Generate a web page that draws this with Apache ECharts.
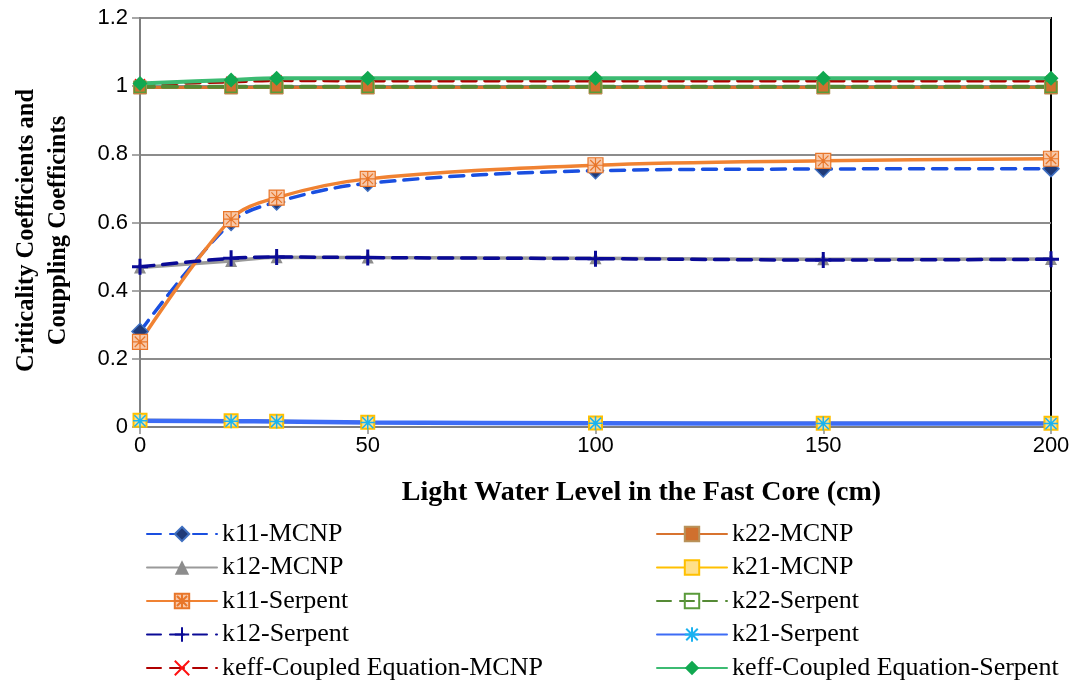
<!DOCTYPE html>
<html>
<head>
<meta charset="utf-8">
<script src="https://cdn.jsdelivr.net/npm/echarts@6/dist/echarts.min.js"></script>
<style>
  html, body { margin: 0; padding: 0; background: #fff; }
  #chart { width: 1075px; height: 684px; }
</style>
</head>
<body>
<div id="chart"></div>
<script>
// Light water level in the fast core (cm)
const waterLevel = [0, 20, 30, 50, 100, 150, 200];

// Criticality and coupling coefficients
const k11MCNP    = [0.280, 0.600, 0.660, 0.715, 0.752, 0.757, 0.758];
const k22MCNP    = [0.996, 0.996, 0.996, 0.996, 0.996, 0.996, 0.996];
const k12MCNP    = [0.468, 0.487, 0.498, 0.497, 0.495, 0.492, 0.493];
const k21MCNP    = [0.020, 0.018, 0.017, 0.014, 0.012, 0.011, 0.011];
const k11Serpent = [0.250, 0.610, 0.673, 0.728, 0.768, 0.781, 0.787];
const k22Serpent = [0.998, 0.998, 0.998, 0.998, 0.998, 0.998, 0.998];
const k12Serpent = [0.470, 0.495, 0.499, 0.497, 0.494, 0.490, 0.492];
const k21Serpent = [0.018, 0.017, 0.016, 0.013, 0.011, 0.010, 0.010];
const keffMCNP    = [1.006, 1.013, 1.017, 1.016, 1.016, 1.016, 1.016];
const keffSerpent = [1.008, 1.018, 1.023, 1.023, 1.023, 1.023, 1.023];

const yTicks = { min: 0, max: 1.2, step: 0.2 };
const xTicks = { min: 0, max: 200, step: 50 };

const pairs = vals => waterLevel.map((x, i) => [x, vals[i]]);

// marker shapes
const PLUS = 'path://M0,5L10,5M5,0L5,10';
const STAR = 'path://M1,1L9,9M9,1L1,9M5,0L5,10M0,5L10,5';
const BOXSTAR = 'path://M0,0L10,0L10,10L0,10Z M1.5,1.5L8.5,8.5M8.5,1.5L1.5,8.5M5,0L5,10M0,5L10,5';
const CROSS = 'path://M0,0L10,10M10,0L0,10';

const dash = [14, 9];

function line(name, data, color, width, dashed, symbol, size, itemStyle, smooth) {
  return {
    name: name,
    type: 'line',
    data: pairs(data),
    smooth: smooth === undefined ? 0.35 : smooth,
    symbol: symbol,
    symbolSize: size,
    showSymbol: true,
    lineStyle: { color: color, width: width, type: dashed ? dash : 'solid', cap: 'round' },
    itemStyle: itemStyle,
    emphasis: { disabled: true }
  };
}

const series = [
  line('k11-MCNP', k11MCNP, '#1a4fe0', 3.5, true, 'diamond', 16,
       { color: '#1f3a78', borderColor: '#3f6fc0', borderWidth: 1.5 }),
  line('k12-MCNP', k12MCNP, '#9a9a9a', 3.5, false, 'triangle', 12,
       { color: '#8c8c8c' }),
  line('k11-Serpent', k11Serpent, '#f08232', 3.5, false, BOXSTAR, 15,
       { color: '#f8c8a8', borderColor: '#e8762a', borderWidth: 1.2 }),
  line('k12-Serpent', k12Serpent, '#0a0a96', 3.5, true, PLUS, 16,
       { color: 'none', borderColor: '#0a0a96', borderWidth: 3 }),
  line('keff-Coupled Equation-MCNP', keffMCNP, '#b00000', 3.5, true, CROSS, 10,
       { color: 'none', borderColor: '#ff1010', borderWidth: 1.5 }),
  line('k22-MCNP', k22MCNP, '#d8732f', 3, false, 'rect', 13,
       { color: '#d0702e', borderColor: '#b8925a', borderWidth: 1 }),
  line('k21-MCNP', k21MCNP, '#ffc000', 3, false, 'rect', 13,
       { color: '#ffe08a', borderColor: '#ffc000', borderWidth: 2 }),
  line('k22-Serpent', k22Serpent, '#558a35', 4, true, 'rect', 11,
       { color: 'transparent', borderColor: '#5a9a3a', borderWidth: 1.5 }),
  line('k21-Serpent', k21Serpent, '#3d6cf5', 4.5, false, STAR, 14,
       { color: 'none', borderColor: '#1ab2f0', borderWidth: 1.5 }),
  line('keff-Coupled Equation-Serpent', keffSerpent, '#3cbb72', 4, false, 'diamond', 15,
       { color: '#10a850' })
];

const legendText = { fontFamily: 'Liberation Serif', fontSize: 26, color: '#000', padding: [0, 0, 0, 0] };

const legendBase = {
  orient: 'vertical', top: 521, padding: 0, height: 170,
  itemWidth: 70, itemHeight: 18, itemGap: 7.5,
  textStyle: legendText
};

const option = {
  animation: false,
  backgroundColor: '#fff',
  grid: {
    left: 140, right: 24, top: 18, bottom: 257,
    outerBoundsMode: 'none',
    containLabel: false,
    show: true, borderColor: '#000', borderWidth: 2, backgroundColor: 'transparent'
  },
  xAxis: {
    type: 'value',
    min: xTicks.min, max: xTicks.max, interval: xTicks.step,
    name: 'Light Water Level in the Fast Core (cm)',
    nameLocation: 'middle',
    nameGap: 52,
    nameTextStyle: { fontFamily: 'Liberation Serif', fontWeight: 'bold', fontSize: 28, color: '#000', padding: [0, 0, 0, 92] },
    axisLine: { lineStyle: { color: '#7f7f7f', width: 2 } },
    axisTick: { show: true, length: 7, lineStyle: { color: '#8a8a8a', width: 1.5 } },
    axisLabel: { fontFamily: 'Liberation Sans', fontSize: 22, color: '#000', margin: 8 },
    splitLine: { show: false }
  },
  yAxis: {
    type: 'value',
    min: yTicks.min, max: yTicks.max, interval: yTicks.step,
    name: 'Criticality Coefficients and\nCouppling Coefficints',
    nameLocation: 'middle',
    nameGap: 65,
    nameTextStyle: { fontFamily: 'Liberation Serif', fontWeight: 'bold', fontSize: 24.5, color: '#000', lineHeight: 32, padding: [0, 16, 0, 0] },
    axisLine: { show: true, lineStyle: { color: '#7f7f7f', width: 2 } },
    axisTick: { show: true, length: 8, lineStyle: { color: '#8a8a8a', width: 1.5 } },
    axisLabel: { fontFamily: 'Liberation Sans', fontSize: 22, color: '#000', margin: 12 },
    splitLine: { show: true, lineStyle: { color: '#8c8c8c', width: 2 } }
  },
  legend: [
    Object.assign({}, legendBase, {
      left: 146,
      data: ['k11-MCNP', 'k12-MCNP', 'k11-Serpent', 'k12-Serpent', 'keff-Coupled Equation-MCNP']
    }),
    Object.assign({}, legendBase, {
      left: 656,
      data: ['k22-MCNP', 'k21-MCNP', 'k22-Serpent', 'k21-Serpent', 'keff-Coupled Equation-Serpent']
    })
  ],
  series: series
};

const chart = echarts.init(document.getElementById('chart'), null, { renderer: 'canvas' });
chart.setOption(option);
</script>
</body>
</html>
